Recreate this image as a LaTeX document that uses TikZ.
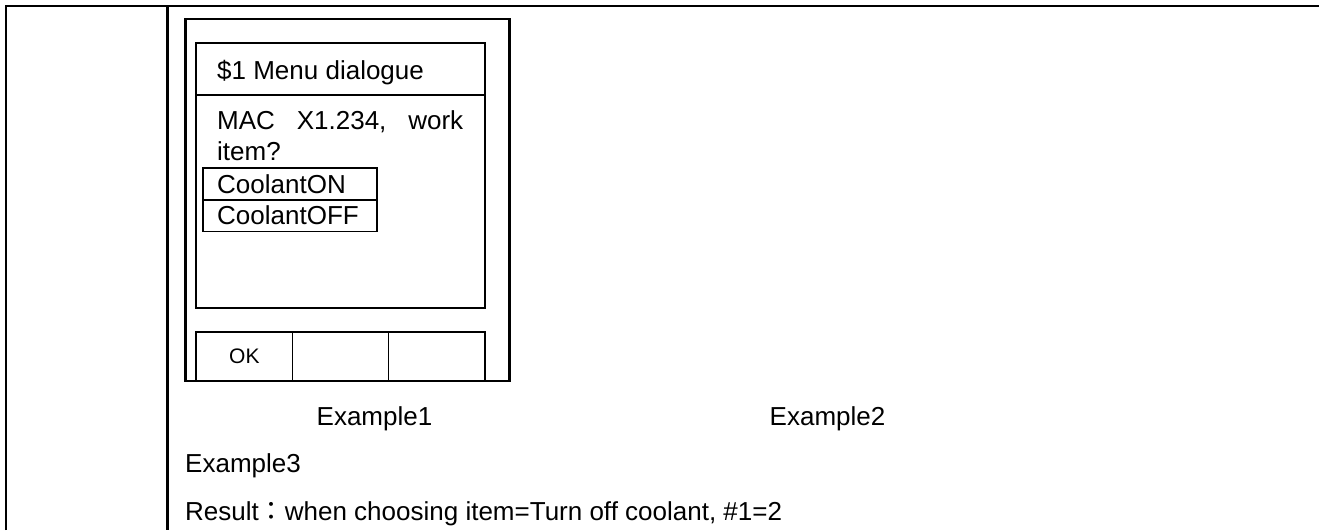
\documentclass[tikz,border=0pt]{standalone}
\usepackage{fontspec}
\setmainfont{Liberation Sans}
\newfontfamily\cjk{Noto Sans CJK JP}
\begin{document}
\begin{tikzpicture}[x=1pt,y=-1pt,
  tbl/.style={line width=2.7pt},
  phone/.style={line width=2.4pt},
  scr/.style={line width=1.7pt},
  btn/.style={line width=1.9pt},
  opt/.style={line width=1.8pt},
  txt/.style={inner sep=0pt,anchor=base west,font=\fontsize{26}{31}\selectfont},
  ctxt/.style={inner sep=0pt,anchor=base,font=\fontsize{26}{31}\selectfont}]
\useasboundingbox (0,0) rectangle (1319,530);
% table lines
\coordinate (tl) at (6,6);
\coordinate (tr) at (1319,6);
\coordinate (bl) at (6,530);
\coordinate (dt) at (167.5,6);
\coordinate (db) at (167.5,530);
\draw[tbl] (bl) -- (tl) -- (tr);
\draw[tbl] (dt) -- (db);
% phone
\draw[phone] (185.5,18.8) rectangle (509.5,381.2);
% screen
\draw[scr] (196.3,43) rectangle (485,307.7);
\draw[scr] (196.3,95) -- (485,95);
% buttons
\draw[btn] (196.3,381) -- (196.3,332) -- (485,332) -- (485,381);
\draw[btn] (292.5,332) -- (292.5,381);
\draw[btn] (388.5,332) -- (388.5,381);
% options
\draw[opt] (203,168) rectangle (377,231.5);
\draw[opt] (203,200) -- (377,200);
% texts
\node[txt] (title) at (217,79) {\$1 Menu dialogue};
\node[txt] (mac) at (217,129) {\makebox[246pt][s]{MAC\hfill X1.234,\hfill work}};
\node[txt] (item) at (217,160) {item?};
\node[txt] (con) at (217,193) {CoolantON};
\node[txt] (coff) at (217,224.5) {CoolantOFF};
\node[inner sep=0pt,anchor=base west,font=\fontsize{21}{25}\selectfont] (ok) at (229,363) {OK};
\node[ctxt] (ex1) at (374.5,425) {Example1};
\node[ctxt] (ex2) at (827.5,425) {Example2};
\node[txt] (ex3) at (185,472) {Example3};
\node[txt] (res) at (185,520) {Result{\cjk ：}when choosing item=Turn off coolant, \#1=2};
\end{tikzpicture}
\end{document}
